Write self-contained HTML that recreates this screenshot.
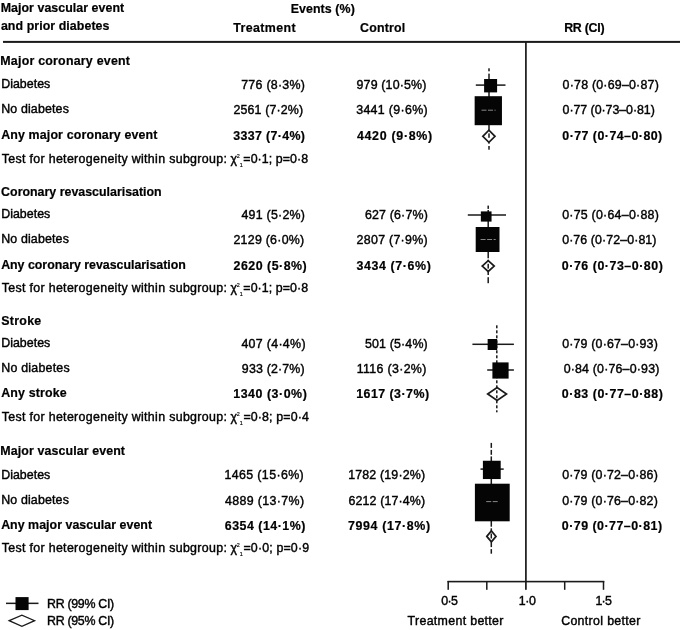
<!DOCTYPE html>
<html><head><meta charset='utf-8'><title>Forest plot</title><style>
html,body{margin:0;padding:0;background:#fff;}
body{width:680px;height:630px;position:relative;overflow:hidden;font-family:"Liberation Sans", sans-serif;font-size:12.4px;color:#000;}
.t{position:absolute;white-space:nowrap;line-height:1;-webkit-text-stroke:0.4px #000;}
.b{font-weight:700;-webkit-text-stroke:0.2px #000;}
.su,.sb{font-size:5.4px;position:relative;letter-spacing:0;-webkit-text-stroke:0.15px #000;}
.su{top:-4.7px;margin-left:-0.3px;}
.sb{top:4.6px;margin-right:0.6px;}
svg{position:absolute;left:0;top:0;}
</style></head><body>
<svg width="680" height="630" viewBox="0 0 680 630">
<rect x="3" y="40.9" width="677" height="2" fill="#1a1a1a"/>
<rect x="525.05" y="42" width="1.7" height="547.8" fill="#1a1a1a"/>
<rect x="447.5" y="580.8" width="156.8" height="1.6" fill="#1a1a1a"/>
<rect x="447.45" y="581" width="1.5" height="8.8" fill="#1a1a1a"/>
<rect x="486.05" y="581" width="1.5" height="8.8" fill="#1a1a1a"/>
<rect x="563.95" y="581" width="1.5" height="8.8" fill="#1a1a1a"/>
<rect x="602.75" y="581" width="1.5" height="8.8" fill="#1a1a1a"/>
<rect x="488.25" y="68.30" width="1.5" height="3.00" fill="#1a1a1a"/>
<rect x="488.25" y="73.60" width="1.5" height="6.40" fill="#1a1a1a"/>
<rect x="488.25" y="92.00" width="1.5" height="5.00" fill="#1a1a1a"/>
<rect x="488.25" y="125.00" width="1.5" height="5.00" fill="#1a1a1a"/>
<rect x="488.25" y="133.40" width="1.5" height="4.40" fill="#1a1a1a"/>
<rect x="488.25" y="142.50" width="1.5" height="1.10" fill="#1a1a1a"/>
<rect x="488.25" y="146.00" width="1.5" height="3.70" fill="#1a1a1a"/>
<rect x="475.8" y="84.35" width="29.70" height="1.5" fill="#1a1a1a"/>
<rect x="484.10" y="79.00" width="13" height="13.4" fill="#050505"/>
<rect x="474.65" y="96.20" width="27.3" height="29" fill="#050505"/>
<line x1="481.5" y1="110.2" x2="495.6" y2="110.2" stroke="#aaa" stroke-width="0.8" stroke-dasharray="5 1.5"/>
<polygon points="482.80,136.3 488.9,130.20 495.00,136.3 488.9,142.40" fill="none" stroke="#1a1a1a" stroke-width="1.7"/>
<rect x="487.45" y="205.60" width="1.5" height="3.30" fill="#1a1a1a"/>
<rect x="487.45" y="210.00" width="1.5" height="2.00" fill="#1a1a1a"/>
<rect x="487.45" y="221.00" width="1.5" height="6.50" fill="#1a1a1a"/>
<rect x="487.45" y="251.50" width="1.5" height="6.80" fill="#1a1a1a"/>
<rect x="487.45" y="259.80" width="1.5" height="1.20" fill="#1a1a1a"/>
<rect x="487.45" y="263.80" width="1.5" height="4.80" fill="#1a1a1a"/>
<rect x="487.45" y="271.50" width="1.5" height="3.50" fill="#1a1a1a"/>
<rect x="487.45" y="277.20" width="1.5" height="6.00" fill="#1a1a1a"/>
<rect x="467.8" y="214.25" width="38.20" height="1.5" fill="#1a1a1a"/>
<rect x="480.85" y="211.40" width="10.7" height="10.2" fill="#050505"/>
<rect x="475.70" y="227.00" width="23.8" height="25" fill="#050505"/>
<line x1="480.6" y1="239.5" x2="495.7" y2="239.5" stroke="#aaa" stroke-width="0.8" stroke-dasharray="5 1.5"/>
<polygon points="482.20,266.1 488.2,260.70 494.20,266.1 488.2,271.50" fill="none" stroke="#1a1a1a" stroke-width="1.7"/>
<rect x="496.05" y="325.30" width="1.5" height="3.00" fill="#1a1a1a"/>
<rect x="496.05" y="330.30" width="1.5" height="3.00" fill="#1a1a1a"/>
<rect x="496.05" y="335.30" width="1.5" height="3.00" fill="#1a1a1a"/>
<rect x="496.05" y="340.30" width="1.5" height="3.00" fill="#1a1a1a"/>
<rect x="496.05" y="345.30" width="1.5" height="3.00" fill="#1a1a1a"/>
<rect x="496.05" y="350.30" width="1.5" height="3.00" fill="#1a1a1a"/>
<rect x="496.05" y="355.30" width="1.5" height="3.00" fill="#1a1a1a"/>
<rect x="496.05" y="360.30" width="1.5" height="3.00" fill="#1a1a1a"/>
<rect x="496.05" y="365.30" width="1.5" height="3.00" fill="#1a1a1a"/>
<rect x="496.05" y="370.30" width="1.5" height="3.00" fill="#1a1a1a"/>
<rect x="496.05" y="375.30" width="1.5" height="3.00" fill="#1a1a1a"/>
<rect x="496.05" y="380.30" width="1.5" height="3.00" fill="#1a1a1a"/>
<rect x="496.05" y="385.30" width="1.5" height="3.00" fill="#1a1a1a"/>
<rect x="496.05" y="390.30" width="1.5" height="3.00" fill="#1a1a1a"/>
<rect x="496.05" y="395.30" width="1.5" height="3.00" fill="#1a1a1a"/>
<rect x="496.05" y="400.30" width="1.5" height="3.00" fill="#1a1a1a"/>
<rect x="496.05" y="405.30" width="1.5" height="3.00" fill="#1a1a1a"/>
<rect x="496.05" y="410.30" width="1.5" height="2.00" fill="#1a1a1a"/>
<rect x="472.4" y="343.55" width="41.50" height="1.5" fill="#1a1a1a"/>
<rect x="487.65" y="339.00" width="9.5" height="11" fill="#050505"/>
<rect x="487.2" y="369.25" width="26.70" height="1.5" fill="#1a1a1a"/>
<rect x="492.40" y="362.40" width="16.2" height="16.2" fill="#050505"/>
<polygon points="487.70,394 497.1,387.50 506.50,394 497.1,400.50" fill="none" stroke="#1a1a1a" stroke-width="1.7"/>
<rect x="490.55" y="442.90" width="1.5" height="5.00" fill="#1a1a1a"/>
<rect x="490.55" y="449.90" width="1.5" height="4.90" fill="#1a1a1a"/>
<rect x="490.55" y="456.40" width="1.5" height="4.60" fill="#1a1a1a"/>
<rect x="490.55" y="478.80" width="1.5" height="5.20" fill="#1a1a1a"/>
<rect x="490.55" y="521.00" width="1.5" height="5.70" fill="#1a1a1a"/>
<rect x="490.55" y="528.30" width="1.5" height="3.10" fill="#1a1a1a"/>
<rect x="490.55" y="533.50" width="1.5" height="5.00" fill="#1a1a1a"/>
<rect x="490.55" y="541.50" width="1.5" height="5.60" fill="#1a1a1a"/>
<rect x="490.55" y="549.10" width="1.5" height="4.60" fill="#1a1a1a"/>
<rect x="480.5" y="468.35" width="23.20" height="1.5" fill="#1a1a1a"/>
<rect x="482.90" y="460.75" width="17.8" height="18.3" fill="#050505"/>
<rect x="474.90" y="483.70" width="34.8" height="37.6" fill="#050505"/>
<line x1="486.2" y1="501.6" x2="497.8" y2="501.6" stroke="#aaa" stroke-width="0.8" stroke-dasharray="5 1.5"/>
<polygon points="486.80,536.4 491.4,530.90 496.00,536.4 491.4,541.90" fill="none" stroke="#1a1a1a" stroke-width="1.7"/>
<rect x="6" y="602.6" width="32.5" height="1.5" fill="#1a1a1a"/>
<rect x="15.5" y="597.1" width="13.1" height="13" fill="#050505"/>
<polygon points="9.2,620.7 21.9,615.1 34.6,620.7 21.9,626.4" fill="#fff" stroke="#1a1a1a" stroke-width="1.3"/>
</svg>
<div class="t b" style="left:0.70px;top:1.70px;letter-spacing:0.047px">Major vascular event</div>
<div class="t b" style="left:0.90px;top:19.70px;letter-spacing:0.066px">and prior diabetes</div>
<div class="t b" style="left:290.70px;top:2.70px;letter-spacing:0.080px">Events (%)</div>
<div class="t b" style="left:233.36px;top:21.70px;letter-spacing:0.380px">Treatment</div>
<div class="t b" style="left:360.11px;top:21.70px;letter-spacing:0.164px">Control</div>
<div class="t b" style="left:564.19px;top:21.70px;letter-spacing:-0.269px">RR (CI)</div>
<div class="t b" style="left:0.30px;top:54.70px;letter-spacing:0.226px">Major coronary event</div>
<div class="t" style="left:1.16px;top:77.70px;letter-spacing:0.034px">Diabetes</div>
<div class="t" style="left:1.16px;top:102.70px;letter-spacing:0.156px">No diabetes</div>
<div class="t b" style="left:1.15px;top:128.70px;letter-spacing:0.150px">Any major coronary event</div>
<div class="t" style="left:1.71px;top:152.70px;letter-spacing:0.324px">Test for heterogeneity within subgroup:</div>
<div class="t" style="left:230.47px;top:152.70px;letter-spacing:0.070px">χ<span class="su">2</span><span class="sb">1</span>=0·1; p=0·8</div>
<div class="t" style="left:241.16px;top:78.70px;letter-spacing:0.278px">776 (8·3%)</div>
<div class="t" style="left:356.56px;top:78.70px;letter-spacing:0.160px">979 (10·5%)</div>
<div class="t" style="left:562.60px;top:78.70px;letter-spacing:0.213px">0·78 (0·69–0·87)</div>
<div class="t" style="left:233.44px;top:103.70px;letter-spacing:0.154px">2561 (7·2%)</div>
<div class="t" style="left:356.20px;top:103.70px;letter-spacing:0.323px">3441 (9·6%)</div>
<div class="t" style="left:562.60px;top:103.70px;letter-spacing:-0.049px">0·77 (0·73–0·81)</div>
<div class="t b" style="left:233.33px;top:129.70px;letter-spacing:0.347px">3337 (7·4%)</div>
<div class="t b" style="left:356.91px;top:129.70px;letter-spacing:0.713px">4420 (9·8%)</div>
<div class="t b" style="left:562.32px;top:129.70px;letter-spacing:0.462px">0·77 (0·74–0·80)</div>
<div class="t b" style="left:1.11px;top:185.70px;letter-spacing:0.005px">Coronary revascularisation</div>
<div class="t" style="left:1.16px;top:207.70px;letter-spacing:0.034px">Diabetes</div>
<div class="t" style="left:1.16px;top:232.70px;letter-spacing:0.156px">No diabetes</div>
<div class="t b" style="left:1.15px;top:258.70px;letter-spacing:-0.017px">Any coronary revascularisation</div>
<div class="t" style="left:1.71px;top:281.70px;letter-spacing:0.324px">Test for heterogeneity within subgroup:</div>
<div class="t" style="left:230.47px;top:281.70px;letter-spacing:0.070px">χ<span class="su">2</span><span class="sb">1</span>=0·1; p=0·8</div>
<div class="t" style="left:241.40px;top:208.70px;letter-spacing:0.251px">491 (5·2%)</div>
<div class="t" style="left:364.96px;top:208.70px;letter-spacing:0.168px">627 (6·7%)</div>
<div class="t" style="left:562.16px;top:208.70px;letter-spacing:0.243px">0·75 (0·64–0·88)</div>
<div class="t" style="left:233.44px;top:233.70px;letter-spacing:0.255px">2129 (6·0%)</div>
<div class="t" style="left:356.61px;top:233.70px;letter-spacing:0.282px">2807 (7·9%)</div>
<div class="t" style="left:562.16px;top:233.70px;letter-spacing:0.089px">0·76 (0·72–0·81)</div>
<div class="t b" style="left:233.55px;top:259.70px;letter-spacing:0.497px">2620 (5·8%)</div>
<div class="t b" style="left:356.46px;top:259.70px;letter-spacing:0.617px">3434 (7·6%)</div>
<div class="t b" style="left:561.87px;top:259.70px;letter-spacing:0.529px">0·76 (0·73–0·80)</div>
<div class="t b" style="left:1.26px;top:314.70px;letter-spacing:0.275px">Stroke</div>
<div class="t" style="left:1.16px;top:336.70px;letter-spacing:0.034px">Diabetes</div>
<div class="t" style="left:1.28px;top:361.70px;letter-spacing:0.224px">No diabetes</div>
<div class="t b" style="left:1.15px;top:386.70px;letter-spacing:0.161px">Any stroke</div>
<div class="t" style="left:1.71px;top:410.70px;letter-spacing:0.324px">Test for heterogeneity within subgroup:</div>
<div class="t" style="left:230.47px;top:410.70px;letter-spacing:0.136px">χ<span class="su">2</span><span class="sb">1</span>=0·8; p=0·4</div>
<div class="t" style="left:241.40px;top:337.70px;letter-spacing:0.316px">407 (4·4%)</div>
<div class="t" style="left:364.92px;top:337.70px;letter-spacing:0.172px">501 (5·4%)</div>
<div class="t" style="left:562.16px;top:337.70px;letter-spacing:0.176px">0·79 (0·67–0·93)</div>
<div class="t" style="left:241.83px;top:362.70px;letter-spacing:0.172px">933 (2·7%)</div>
<div class="t" style="left:356.80px;top:362.70px;letter-spacing:0.317px">1116 (3·2%)</div>
<div class="t" style="left:563.64px;top:362.70px;letter-spacing:0.183px">0·84 (0·76–0·93)</div>
<div class="t b" style="left:233.25px;top:387.70px;letter-spacing:0.537px">1340 (3·0%)</div>
<div class="t b" style="left:356.20px;top:387.70px;letter-spacing:0.464px">1617 (3·7%)</div>
<div class="t b" style="left:561.87px;top:387.70px;letter-spacing:0.529px">0·83 (0·77–0·88)</div>
<div class="t b" style="left:0.30px;top:444.70px;letter-spacing:0.111px">Major vascular event</div>
<div class="t" style="left:1.16px;top:468.70px;letter-spacing:0.034px">Diabetes</div>
<div class="t" style="left:1.16px;top:493.70px;letter-spacing:0.156px">No diabetes</div>
<div class="t b" style="left:1.15px;top:518.70px;letter-spacing:0.033px">Any major vascular event</div>
<div class="t" style="left:1.71px;top:541.70px;letter-spacing:0.324px">Test for heterogeneity within subgroup:</div>
<div class="t" style="left:230.47px;top:541.70px;letter-spacing:0.159px">χ<span class="su">2</span><span class="sb">1</span>=0·0; p=0·9</div>
<div class="t" style="left:224.40px;top:468.70px;letter-spacing:0.389px">1465 (15·6%)</div>
<div class="t" style="left:348.20px;top:468.70px;letter-spacing:0.162px">1782 (19·2%)</div>
<div class="t" style="left:562.16px;top:468.70px;letter-spacing:0.176px">0·79 (0·72–0·86)</div>
<div class="t" style="left:225.10px;top:494.70px;letter-spacing:0.354px">4889 (13·7%)</div>
<div class="t" style="left:348.55px;top:494.70px;letter-spacing:0.131px">6212 (17·4%)</div>
<div class="t" style="left:562.16px;top:494.70px;letter-spacing:0.176px">0·79 (0·76–0·82)</div>
<div class="t b" style="left:224.87px;top:519.70px;letter-spacing:0.488px">6354 (14·1%)</div>
<div class="t b" style="left:347.96px;top:519.70px;letter-spacing:0.634px">7994 (17·8%)</div>
<div class="t b" style="left:561.87px;top:519.70px;letter-spacing:0.479px">0·79 (0·77–0·81)</div>
<div class="t" style="left:47.11px;top:597.70px;letter-spacing:-0.320px">RR (99% CI)</div>
<div class="t" style="left:47.11px;top:614.70px;letter-spacing:-0.320px">RR (95% CI)</div>
<div class="t" style="left:441.16px;top:594.70px;letter-spacing:-0.561px">0·5</div>
<div class="t" style="left:518.74px;top:594.70px;letter-spacing:-0.410px">1·0</div>
<div class="t" style="left:595.40px;top:594.70px;letter-spacing:-0.691px">1·5</div>
<div class="t" style="left:407.59px;top:614.70px;letter-spacing:0.315px">Treatment better</div>
<div class="t" style="left:561.14px;top:614.70px;letter-spacing:0.327px">Control better</div>
</body></html>
